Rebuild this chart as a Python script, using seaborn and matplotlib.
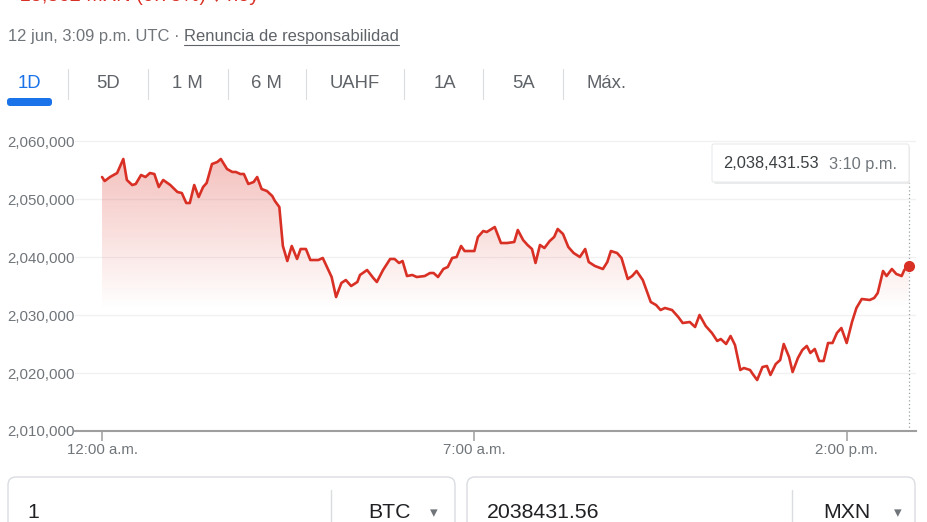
import numpy as np
import pandas as pd
import seaborn as sns
import matplotlib.pyplot as plt
from matplotlib.patches import FancyBboxPatch
from matplotlib.colors import to_rgb

# minutos desde las 12:00 a.m. y precio BTC/MXN
minutes = [0, 3, 9, 17, 24, 28, 34, 38, 44, 49, 54, 59, 64, 69, 77, 85, 90, 95, 99,
           104, 109, 114, 118, 124, 130, 134, 141, 147, 151, 156, 160, 165, 171, 175,
           180, 186, 192, 195, 200, 204, 209, 214, 220, 224, 230, 235, 244, 249, 259,
           264, 270, 275, 281, 288, 291, 299, 306, 310, 317, 325, 330, 335, 339, 344,
           350, 355, 364, 370, 374, 379, 385, 390, 395, 400, 405, 409, 420, 424, 430,
           434, 443, 450, 457, 465, 469, 475, 480, 485, 489, 494, 499, 505, 510, 514,
           520, 526, 532, 539, 545, 549, 556, 565, 570, 574, 581, 586, 593, 598, 603,
           610, 619, 625, 630, 635, 643, 650, 655, 663, 669, 674, 681, 688, 694, 698,
           704, 709, 714, 720, 724, 731, 734, 739, 745, 750, 754, 760, 765, 769, 775,
           779, 785, 790, 795, 799, 804, 809, 814, 819, 824, 829, 834, 840, 846, 851,
           857, 866, 871, 875, 881, 885, 891, 896, 902, 905, 910]
prices = [2053790, 2053100, 2053790, 2054480, 2056900, 2053280, 2052410, 2052590,
          2054140, 2053790, 2054480, 2054310, 2052070, 2053280, 2052410, 2051210,
          2051030, 2049310, 2049310, 2052410, 2050340, 2052070, 2052760, 2056030,
          2056380, 2056900, 2055170, 2054660, 2054660, 2054310, 2054310, 2052590,
          2052930, 2053790, 2051720, 2051380, 2050520, 2049660, 2048620, 2041900,
          2039310, 2041900, 2039660, 2041380, 2041380, 2039480, 2039480, 2039830,
          2036550, 2033100, 2035520, 2036030, 2035000, 2035690, 2036900, 2037760,
          2036380, 2035690, 2037760, 2039660, 2039660, 2038970, 2039310, 2036720,
          2036900, 2036550, 2036720, 2037240, 2037240, 2036550, 2037930, 2038280,
          2039830, 2040000, 2041900, 2041030, 2041030, 2043450, 2044480, 2044310,
          2045170, 2042410, 2042410, 2042590, 2044660, 2042930, 2042070, 2041380,
          2038970, 2042070, 2041550, 2042760, 2043450, 2044830, 2043970, 2041720,
          2040690, 2040000, 2041380, 2039140, 2038450, 2037930, 2039140, 2041030,
          2040690, 2039830, 2036210, 2036720, 2037590, 2036030, 2032240, 2031720,
          2030860, 2031210, 2030860, 2029660, 2028620, 2028790, 2027930, 2030000,
          2028100, 2026900, 2025520, 2025860, 2025000, 2026380, 2024830, 2020520,
          2020860, 2020520, 2019830, 2018790, 2021030, 2021210, 2019660, 2021550,
          2022240, 2025000, 2022760, 2020170, 2022590, 2023970, 2024660, 2023450,
          2024140, 2022070, 2022070, 2025170, 2025170, 2026900, 2027760, 2025170,
          2028790, 2031210, 2032760, 2032590, 2032930, 2033790, 2037590, 2036720,
          2037930, 2037070, 2036720, 2037760, 2038431.53]

y_ticks = [2010000, 2020000, 2030000, 2040000, 2050000, 2060000]
x_ticks = [0, 420, 840]
x_labels = ['12:00 a.m.', '7:00 a.m.', '2:00 p.m.']
tabs = ['1D', '5D', '1 M', '6 M', 'UAHF', '1A', '5A', 'Máx.']
tab_x = [29, 108, 187, 266, 355, 445, 524, 607]
sep_x = [68, 148, 228, 306, 404, 483, 563]

RED = '#d93025'
GRAY = '#70757a'
W, H = 928, 522

sns.set_style('white')
plt.rcParams['font.family'] = ['Liberation Sans', 'DejaVu Sans']

fig = plt.figure(figsize=(W / 100, H / 100), dpi=100)


def px(l, t, r, b):
    return [l / W, 1 - b / H, (r - l) / W, (b - t) / H]


ax = fig.add_axes(px(75, 130, 916, 431))
df = pd.DataFrame({'minuto': minutes, 'precio': prices})
xmin, xmax = -30.5, 918.2
ymin, ymax = 2010000, 2061897

sns.lineplot(data=df, x='minuto', y='precio', ax=ax, color=RED, lw=1.9, zorder=3)

# relleno degradado bajo la linea
fill = ax.fill_between(df['minuto'], df['precio'], ymin, color='none', lw=0)
grad = np.zeros((256, 1, 4))
grad[..., :3] = to_rgb(RED)
lv = np.linspace(ymin, ymax, 256)
grad[:, 0, 3] = np.clip((lv - 2031000) / (2057000 - 2031000), 0, 1) * 0.3
im = ax.imshow(grad, extent=[xmin, xmax, ymin, ymax], origin='lower', aspect='auto', zorder=1)
im.set_clip_path(fill.get_paths()[0], transform=ax.transData)

ax.plot(df['minuto'].iloc[-1], df['precio'].iloc[-1], 'o', ms=7, color=RED, zorder=5, clip_on=False)
ax.axvline(df['minuto'].iloc[-1], ymin=0, ymax=(431 - 183) / (431 - 130),
           ls=(0, (1, 2)), color='#9aa0a6', lw=0.9, zorder=2)

ax.set_xlim(xmin, xmax)
ax.set_ylim(ymin, ymax)
ax.set_yticks(y_ticks)
ax.set_yticklabels([f'{v:,}' for v in y_ticks], ha='left')
ax.set_xticks(x_ticks, x_labels)
ax.set_xlabel('')
ax.set_ylabel('')
ax.grid(axis='y', color='#f1f1f1', lw=1)
ax.grid(axis='x', visible=False)
ax.set_axisbelow(True)
ax.tick_params(axis='y', left=False, length=0, pad=49, labelsize=10.8, labelcolor=GRAY)
ax.tick_params(axis='x', bottom=True, length=7.2, width=1.1, color='#9e9e9e', pad=1.5,
               labelsize=10.8, labelcolor=GRAY)
for s in ['top', 'right', 'left']:
    ax.spines[s].set_visible(False)
ax.spines['bottom'].set_color('#9e9e9e')
ax.spines['bottom'].set_linewidth(1.5)

# capa de interfaz en pixeles
ov = fig.add_axes([0, 0, 1, 1], zorder=3)
ov.set_xlim(0, W)
ov.set_ylim(H, 0)
ov.axis('off')
ov.patch.set_alpha(0)

# texto rojo cortado en el borde superior, como en la captura
ov.text(8, 1, '−15,362 MXN (0.75%) ↓ hoy', color=RED, fontsize=14.4, va='baseline')
ov.text(8, 37, '12 jun, 3:09 p.m. UTC · ', color=GRAY, fontsize=11.9, va='center')
ov.text(184, 37, 'Renuncia de responsabilidad', color='#5f6368', fontsize=11.9, va='center')
ov.plot([184, 399], [44.5, 44.5], color='#5f6368', lw=0.8)

for t, x in zip(tabs, tab_x):
    ov.text(x, 83, t, ha='center', va='center', fontsize=13.3,
            color='#1a73e8' if t == '1D' else '#5f6368')
for x in sep_x:
    ov.plot([x, x], [69, 99], color='#dadce0', lw=0.8)
ov.add_patch(FancyBboxPatch((7, 98), 45, 8, boxstyle='round,pad=0,rounding_size=3',
                            fc='#1a73e8', ec='none'))

# tooltip
ov.add_patch(FancyBboxPatch((714, 146), 196, 38, boxstyle='round,pad=0,rounding_size=2',
                            fc='#000000', ec='none', alpha=0.08))
ov.add_patch(FancyBboxPatch((712, 144), 197, 38, boxstyle='round,pad=0,rounding_size=2',
                            fc='white', ec='#e8eaed', lw=0.8))
ov.text(723, 164, f'{prices[-1]:,.2f}', ha='left', va='center', fontsize=11.8, color='#3c4043')
ov.text(897, 164, '3:10 p.m.', ha='right', va='center', fontsize=11.8, color=GRAY)

# conversor
for l, r, div in [(8, 455, 331), (467, 915, 792)]:
    ov.add_patch(FancyBboxPatch((l, 477), r - l, 80, boxstyle='round,pad=0,rounding_size=8',
                                fc='white', ec='#dadce0', lw=1))
    ov.plot([div, div], [490, 530], color='#dadce0', lw=1)
ov.text(27, 513, '1', va='center', fontsize=15.3, color='#202124')
ov.text(411, 513, 'BTC', ha='right', va='center', fontsize=15.3, color='#202124')
ov.text(434, 513, '▾', ha='center', va='center', fontsize=11, color=GRAY)
ov.text(487, 513, '2038431.56', va='center', fontsize=15.3, color='#202124')
ov.text(871, 513, 'MXN', ha='right', va='center', fontsize=15.3, color='#202124')
ov.text(898, 513, '▾', ha='center', va='center', fontsize=11, color=GRAY)

fig.savefig('out.png', dpi=100)
